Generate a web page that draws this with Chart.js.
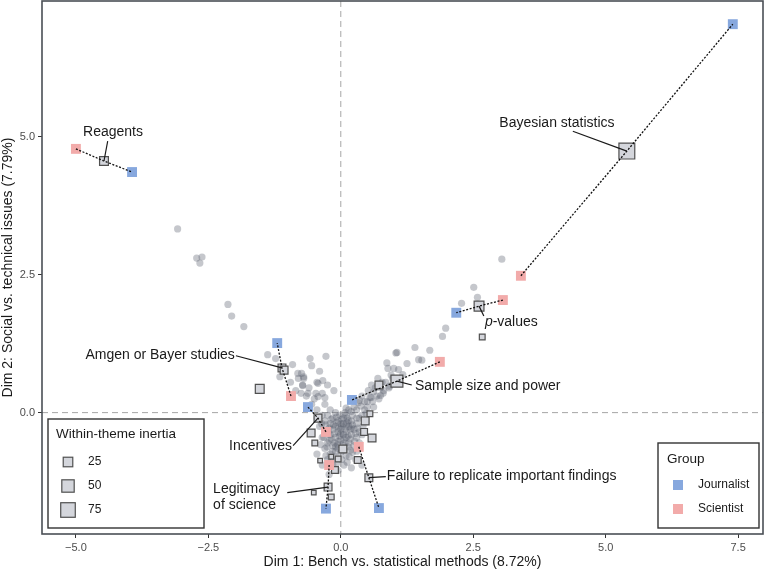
<!DOCTYPE html>
<html>
<head>
<meta charset="utf-8">
<script src="https://cdn.jsdelivr.net/npm/chart.js@4.4.1/dist/chart.umd.min.js"></script>
<style>
  body { margin: 0; background: #fff; }
  #wrap { width: 766px; height: 571px; }
</style>
</head>
<body>
<div id="wrap"><canvas id="mca"></canvas></div>
<script>
// Axis ticks
const xTicks = [-5, -2.5, 0, 2.5, 5, 7.5];
const yTicks = [0, 2.5, 5];

// Labelled themes: centroid, inertia and the two group positions
const themes = ['Bayesian statistics', 'Reagents', 'p-values', 'Sample size and power',
  'Amgen or Bayer studies', 'Incentives', 'Legitimacy of science', 'Failure to replicate important findings'];
const themeX = [5.40, -4.47, 2.61, 1.06, -1.11, -0.43, -0.24, 0.53];
const themeY = [4.74, 4.56, 1.93, 0.57, 0.81, -0.10, -1.35, -1.18];
const themeInertia = [92, 20, 27, 45, 14, 14, 14, 14];
const journalistX = [7.40, -3.94, 2.18, 0.21, -1.20, -0.62, -0.28, 0.72];
const journalistY = [7.04, 4.36, 1.81, 0.23, 1.26, 0.10, -1.74, -1.73];
const scientistX = [3.40, -5.00, 3.06, 1.87, -0.94, -0.28, -0.22, 0.34];
const scientistY = [2.48, 4.78, 2.04, 0.92, 0.30, -0.35, -0.95, -0.62];

// Other (unlabelled) theme centroids
const otherThemeX = [-1.53, -1.07, -0.56, -0.49, -0.39, -0.18, -0.11, -0.05, 0.04, -0.51, -0.18, 0.32, 0.44, 0.46, 0.55, 0.59, 0.72, 2.67];
const otherThemeY = [0.43, 0.77, -0.37, -0.55, -0.87, -0.80, -1.04, -0.84, -0.66, -1.45, -1.53, -0.86, -0.35, -0.15, -0.02, -0.46, 0.50, 1.37];
const otherThemeInertia = [20, 14, 14, 5, 2, 2, 9, 5, 14, 2, 5, 9, 9, 14, 5, 14, 14, 5];

// Individual responses (grey points)
const responses = [
  [-3.08, 3.33], [-2.72, 2.80], [-2.62, 2.82], [-2.66, 2.71], [-2.13, 1.96], [-2.06, 1.75], [-1.83, 1.56],
  [-1.38, 1.05], [-1.23, 0.98], [-1.15, 0.65], [-0.91, 0.87], [-0.58, 0.98], [-0.28, 1.02], [-0.81, 0.71],
  [-0.74, 0.71], [-0.70, 0.62], [-0.72, 0.49], [-0.43, 0.53], [-0.34, 0.58], [-0.62, 0.35], [-0.47, 0.35],
  [-0.43, 0.29], [-0.30, 0.27], [-0.13, 0.40],
  [-0.45, 0.05], [-0.55, 0.15], [-0.50, 0.25], [-0.65, 0.30], [-0.60, 0.45], [-0.72, 0.50], [-0.80, 0.62],
  [-0.70, 0.65], [-0.45, 0.55], [-0.35, 0.35], [-0.30, 0.15], [-0.85, 0.40], [-0.75, 0.35], [-0.95, 0.55],
  [-0.40, 0.75], [-0.55, 0.85], [-0.25, 0.50],
  [-0.35, -0.05], [-0.30, -0.15], [-0.25, -0.05], [-0.20, -0.20], [-0.15, -0.10], [-0.10, -0.25], [-0.05, -0.15],
  [0.00, -0.30], [0.05, -0.20], [0.10, -0.35], [0.15, -0.25], [0.20, -0.15], [0.25, -0.30], [0.30, -0.20],
  [0.35, -0.10], [0.40, -0.05], [-0.30, -0.35], [-0.20, -0.40], [-0.10, -0.45], [0.00, -0.50], [0.10, -0.45],
  [0.20, -0.40], [0.30, -0.45], [-0.25, -0.55], [-0.15, -0.60], [-0.05, -0.65], [0.05, -0.60], [0.15, -0.55],
  [0.25, -0.60], [-0.20, -0.75], [-0.10, -0.80], [0.00, -0.72], [0.10, -0.78], [-0.30, -0.65], [-0.05, -0.35],
  [0.05, -0.40], [-0.15, -0.30], [0.12, -0.10], [0.22, -0.05], [-0.02, -0.05], [0.08, 0.00], [-0.12, -0.55],
  [0.18, -0.68], [0.30, -0.70], [-0.35, -0.45], [-0.40, -0.25], [-0.45, -0.10], [0.02, -0.25], [-0.08, -0.18],
  [0.14, -0.42], [-0.22, -0.28], [0.26, -0.52], [0.35, -0.35], [0.42, -0.25], [0.00, -0.38], [-0.05, -0.52],
  [0.08, -0.55], [-0.18, -0.48], [0.18, -0.30], [-0.10, -0.62], [0.02, -0.85], [-0.25, -0.85], [0.12, -0.90],
  [0.28, -0.85], [-0.15, -0.95],
  [-0.28, -0.22], [-0.18, -0.12], [-0.08, -0.08], [0.02, -0.12], [0.12, -0.18], [0.22, -0.22], [0.32, -0.28],
  [-0.32, -0.45], [-0.22, -0.50], [-0.12, -0.38], [-0.02, -0.42], [0.08, -0.30], [0.18, -0.48], [0.28, -0.38],
  [-0.26, -0.62], [-0.16, -0.70], [-0.06, -0.58], [0.04, -0.68], [0.14, -0.62], [0.22, -0.72],
  [-0.18, -0.85], [-0.08, -0.92], [0.06, -0.95], [-0.28, -0.78],
  [0.05, -0.10], [0.10, -0.22], [0.15, -0.15], [0.20, -0.28], [-0.04, -0.28], [0.06, -0.48], [-0.14, -0.22],
  [-0.24, -0.36], [0.00, -0.20], [0.10, -0.05], [0.30, -0.10], [0.35, -0.55], [0.40, -0.40], [0.45, -0.15],
  [-0.38, -0.58], [-0.36, -0.20], [-0.10, -0.70], [0.16, -0.80],
  [0.10, 0.08], [0.20, 0.02], [-0.10, 0.00], [-0.20, 0.05], [0.33, 0.18], [0.45, 0.05],
  [-0.35, -0.95], [-0.05, -1.05], [0.20, -1.00], [-0.22, -1.12], [0.40, -0.95], [-0.45, -0.75],
  [0.30, 0.05], [0.38, 0.12], [0.45, 0.20], [0.50, 0.10], [0.55, 0.28], [0.60, 0.20], [0.62, 0.38], [0.68, 0.30],
  [0.75, 0.45], [0.80, 0.35], [0.85, 0.55], [0.92, 0.48], [0.98, 0.62], [0.40, 0.30], [0.52, 0.40], [0.25, 0.10],
  [0.15, 0.05], [0.48, -0.02], [0.57, 0.27], [0.75, 0.31], [0.81, 0.40], [0.91, 0.45], [0.70, 0.62], [0.89, 0.80],
  [0.35, 0.22], [0.50, 0.20], [0.65, 0.45], [0.58, 0.50], [0.72, 0.25], [0.62, 0.10], [0.95, 0.68], [1.00, 0.80],
  [0.78, 0.55],
  [1.09, 0.78], [1.17, 0.69], [1.25, 0.89], [1.06, 1.09], [1.40, 1.18], [1.47, 0.96], [1.53, 0.95], [1.68, 1.13],
  [1.92, 1.38], [1.98, 1.53], [2.28, 1.98], [2.51, 2.27], [2.58, 2.09], [3.04, 2.78], [0.87, 0.90], [1.04, 1.08]
];

const inertiaKeys = [25, 50, 75];
const groups = ['Journalist', 'Scientist'];

const BLUE = '#87a8de';
const PINK = '#f2abaa';
const FONT = '"Liberation Sans", Arial, sans-serif';

// square side in px for an inertia value
function squareSide(v) { return 3.9 + 1.37 * Math.sqrt(v); }
function sqRadius(v) { return (squareSide(v) - 1.2) / Math.SQRT2; }

// label placement (data units) for the labelled themes
const labelLayout = [
  { theme: 0, lines: ['Bayesian statistics'], x: 4.08, y: 5.25, align: 'center', lx: 4.38, ly: 5.10 },
  { theme: 1, lines: ['Reagents'], x: -4.30, y: 5.09, align: 'center', lx: -4.40, ly: 4.92 },
  { theme: 2, lines: ['-values'], italicPrefix: 'p', x: 2.72, y: 1.64, align: 'left', lx: 2.70, ly: 1.75 },
  { theme: 3, lines: ['Sample size and power'], x: 1.40, y: 0.48, align: 'left', lx: 1.34, ly: 0.50 },
  { theme: 4, lines: ['Amgen or Bayer studies'], x: -2.00, y: 1.05, align: 'right', lx: -1.98, ly: 1.03 },
  { theme: 5, lines: ['Incentives'], x: -0.92, y: -0.60, align: 'right', lx: -0.90, ly: -0.60 },
  { theme: 6, lines: ['Legitimacy', 'of science'], x: -2.41, y: -1.38, align: 'left', lx: -1.01, ly: -1.45 },
  { theme: 7, lines: ['Failure to replicate important findings'], x: 0.87, y: -1.16, align: 'left', lx: 0.85, ly: -1.16 }
];

const fmt = v => v.toFixed(1).replace('-', '\u2212');

// keep the plot panel at fixed size: no extra label padding
function fixBox(size) {
  return s => {
    if (s.isHorizontal()) s.height = size; else s.width = size;
    s.paddingTop = 0; s.paddingBottom = 0; s.paddingLeft = 0; s.paddingRight = 0;
  };
}

// dotted connector datasets: scientist -> centroid -> journalist
const connectorSets = themes.map((t, i) => ({
  type: 'scatter',
  label: t,
  data: [
    { x: scientistX[i], y: scientistY[i] },
    { x: themeX[i], y: themeY[i] },
    { x: journalistX[i], y: journalistY[i] }
  ],
  showLine: true,
  borderColor: '#111',
  borderWidth: 1.3,
  borderDash: [2, 1.6],
  pointRadius: 0,
  order: 0
}));

const overlayPlugin = {
  id: 'overlay',
  beforeDatasetsDraw(chart) {
    const { ctx, chartArea: a, scales: { x, y } } = chart;
    ctx.save();
    ctx.strokeStyle = '#a6a6a6';
    ctx.lineWidth = 1;
    ctx.setLineDash([6, 4]);
    ctx.beginPath();
    ctx.moveTo(x.getPixelForValue(0), a.top);
    ctx.lineTo(x.getPixelForValue(0), a.bottom);
    ctx.moveTo(a.left, y.getPixelForValue(0));
    ctx.lineTo(a.right, y.getPixelForValue(0));
    ctx.stroke();
    ctx.restore();
  },
  afterDatasetsDraw(chart) {
    const { ctx, scales: { x, y } } = chart;
    ctx.save();
    // leaders
    ctx.strokeStyle = '#1a1a1a';
    ctx.lineWidth = 1.2;
    labelLayout.forEach(l => {
      ctx.beginPath();
      ctx.moveTo(x.getPixelForValue(l.lx), y.getPixelForValue(l.ly));
      ctx.lineTo(x.getPixelForValue(themeX[l.theme]), y.getPixelForValue(themeY[l.theme]));
      ctx.stroke();
    });
    // texts
    ctx.fillStyle = '#1a1a1a';
    ctx.textBaseline = 'middle';
    labelLayout.forEach(l => {
      const px = x.getPixelForValue(l.x);
      const py = y.getPixelForValue(l.y);
      l.lines.forEach((line, k) => {
        const ly = py + k * 16;
        if (l.italicPrefix) {
          ctx.font = 'italic 14px ' + FONT;
          ctx.textAlign = 'left';
          ctx.fillText(l.italicPrefix, px, ly);
          const w = ctx.measureText(l.italicPrefix).width;
          ctx.font = '14px ' + FONT;
          ctx.fillText(line, px + w, ly);
        } else {
          ctx.font = '14px ' + FONT;
          ctx.textAlign = l.align;
          ctx.fillText(line, px, ly);
        }
      });
    });
    ctx.restore();
  },
  afterDraw(chart) {
    const { ctx, chartArea: a } = chart;
    ctx.save();
    // panel border
    ctx.strokeStyle = '#4a4f55';
    ctx.lineWidth = 1.6;
    ctx.strokeRect(a.left, a.top, a.right - a.left, a.bottom - a.top);

    // inertia legend
    let bx = a.left + 6, by = a.bottom - 115, bw = 156, bh = 109;
    ctx.fillStyle = '#fff';
    ctx.fillRect(bx, by, bw, bh);
    ctx.strokeStyle = '#333';
    ctx.lineWidth = 1.4;
    ctx.strokeRect(bx, by, bw, bh);
    ctx.fillStyle = '#1a1a1a';
    ctx.textBaseline = 'middle';
    ctx.textAlign = 'left';
    ctx.font = '13.5px ' + FONT;
    ctx.fillText('Within-theme inertia', bx + 8, by + 15);
    ctx.font = '12px ' + FONT;
    inertiaKeys.forEach((v, i) => {
      const cy = by + 43 + i * 24, cx = bx + 20, s = squareSide(v) - 1.2;
      ctx.fillStyle = '#d4d6dc';
      ctx.fillRect(cx - s / 2, cy - s / 2, s, s);
      ctx.strokeStyle = '#505050';
      ctx.lineWidth = 1.2;
      ctx.strokeRect(cx - s / 2, cy - s / 2, s, s);
      ctx.fillStyle = '#1a1a1a';
      ctx.fillText(String(v), bx + 40, cy);
    });

    // group legend
    bx = a.right - 105; by = a.bottom - 91; bw = 101; bh = 85;
    ctx.fillStyle = '#fff';
    ctx.fillRect(bx, by, bw, bh);
    ctx.strokeStyle = '#333';
    ctx.lineWidth = 1.4;
    ctx.strokeRect(bx, by, bw, bh);
    ctx.fillStyle = '#1a1a1a';
    ctx.font = '13.5px ' + FONT;
    ctx.fillText('Group', bx + 9, by + 16);
    ctx.font = '12px ' + FONT;
    groups.forEach((g, i) => {
      const cy = by + 42 + i * 24, cx = bx + 20;
      ctx.fillStyle = i === 0 ? BLUE : PINK;
      ctx.fillRect(cx - 5, cy - 5, 10, 10);
      ctx.fillStyle = '#1a1a1a';
      ctx.fillText(g, bx + 40, cy);
    });
    ctx.restore();
  }
};

new Chart(document.getElementById('mca').getContext('2d'), {
  type: 'scatter',
  data: {
    datasets: [
      ...connectorSets,
      {
        label: 'Journalist',
        data: journalistX.map((v, i) => ({ x: v, y: journalistY[i] })),
        pointStyle: 'rect',
        pointRadius: 7,
        pointBackgroundColor: BLUE,
        pointBorderWidth: 0,
        order: 1
      },
      {
        label: 'Scientist',
        data: scientistX.map((v, i) => ({ x: v, y: scientistY[i] })),
        pointStyle: 'rect',
        pointRadius: 7,
        pointBackgroundColor: PINK,
        pointBorderWidth: 0,
        order: 1
      },
      {
        label: 'Themes',
        data: themeX.map((v, i) => ({ x: v, y: themeY[i] }))
          .concat(otherThemeX.map((v, i) => ({ x: v, y: otherThemeY[i] }))),
        pointStyle: 'rect',
        pointRadius: themeInertia.concat(otherThemeInertia).map(sqRadius),
        pointBackgroundColor: '#d4d6dc',
        pointBorderColor: '#505050',
        pointBorderWidth: 1.2,
        order: 2
      },
      {
        label: 'Responses',
        data: responses.map(p => ({ x: p[0], y: p[1] })),
        pointRadius: 3.6,
        pointBackgroundColor: 'rgba(90,95,108,0.35)',
        pointBorderWidth: 0,
        order: 3
      }
    ]
  },
  options: {
    responsive: true,
    maintainAspectRatio: false,
    animation: false,
    events: [],
    layout: { autoPadding: false, padding: { top: 1, right: 3, left: 0, bottom: 0 } },
    plugins: { legend: { display: false }, tooltip: { enabled: false } },
    scales: {
      x: {
        type: 'linear',
        min: -5.64,
        max: 7.97,
        afterFit: fixBox(37),
        afterBuildTicks: s => { s.ticks = xTicks.map(v => ({ value: v })); },
        grid: { drawOnChartArea: false, drawTicks: true, tickLength: 4, color: '#333' },
        border: { display: false },
        ticks: { color: '#4d4d4d', font: { family: FONT, size: 11 }, padding: 3, callback: v => fmt(v) },
        title: { display: true, text: 'Dim 1: Bench vs. statistical methods (8.72%)', color: '#1a1a1a',
          font: { family: FONT, size: 14 }, padding: { top: 0, bottom: 0 } }
      },
      y: {
        type: 'linear',
        min: -2.20,
        max: 7.46,
        afterFit: fixBox(42),
        afterBuildTicks: s => { s.ticks = yTicks.map(v => ({ value: v })); },
        grid: { drawOnChartArea: false, drawTicks: true, tickLength: 4, color: '#333' },
        border: { display: false },
        ticks: { color: '#4d4d4d', font: { family: FONT, size: 11 }, padding: 3, callback: v => fmt(v) },
        title: { display: true, text: 'Dim 2: Social vs. technical issues (7.79%)', color: '#1a1a1a',
          font: { family: FONT, size: 14 }, padding: { top: 0, bottom: 0 } }
      }
    }
  },
  plugins: [overlayPlugin]
});
</script>
</body>
</html>
